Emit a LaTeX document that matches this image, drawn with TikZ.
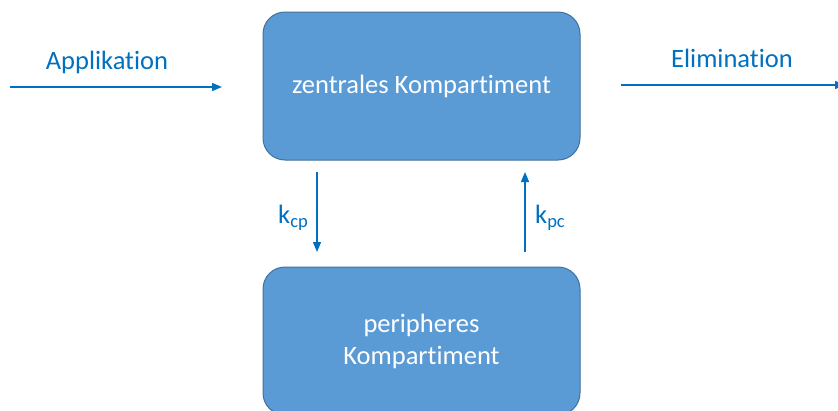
\documentclass[tikz,border=0pt]{standalone}
\usepackage{fontspec}
\setmainfont{Carlito}[Ligatures=CommonOff]
\usetikzlibrary{arrows.meta}
\definecolor{boxfill}{HTML}{5B9BD5}
\definecolor{boxline}{HTML}{41719C}
\definecolor{arrowc}{HTML}{0070C0}
\begin{document}
\begin{tikzpicture}[x=1pt,y=-1pt,
  comp/.style={draw=boxline, line width=1pt, fill=boxfill, rounded corners=22pt,
    minimum width=317pt, minimum height=148pt, inner sep=0pt, text=white,
    font=\fontsize{26.5}{32}\selectfont, align=center},
  flow/.style={draw=arrowc, line width=1.3pt, -{Triangle[length=10pt,width=8pt]}},
  lbl/.style={text=arrowc, font=\fontsize{26.5}{32}\selectfont, inner sep=0pt}]
\useasboundingbox (0,0) rectangle (838,410);
\node[comp] (zen) at (421.5,86) {zentrales Kompartiment};
\node[comp] (per) at (421.5,341) {peripheres\\Kompartiment};
\coordinate (appS) at (10,87);
\coordinate (appE) at (222,87);
\coordinate (eliS) at (621,85);
\coordinate (eliE) at (845,85);
\coordinate (cpS) at (317,172);
\coordinate (cpE) at (317,252);
\coordinate (pcS) at (525,252);
\coordinate (pcE) at (525,172);
\draw[flow] (appS) -- (appE);
\draw[flow] (eliS) -- (eliE);
\draw[flow] (cpS) -- (cpE);
\draw[flow] (pcS) -- (pcE);
\node[lbl] (appL) at (107,62) {Applikation};
\node[lbl] (eliL) at (732,58) {Elimination};
\node[lbl, anchor=west] (kcp) at (278,218) {k\textsubscript{cp}};
\node[lbl, anchor=west] (kpc) at (535,218) {k\textsubscript{pc}};
\end{tikzpicture}
\end{document}
